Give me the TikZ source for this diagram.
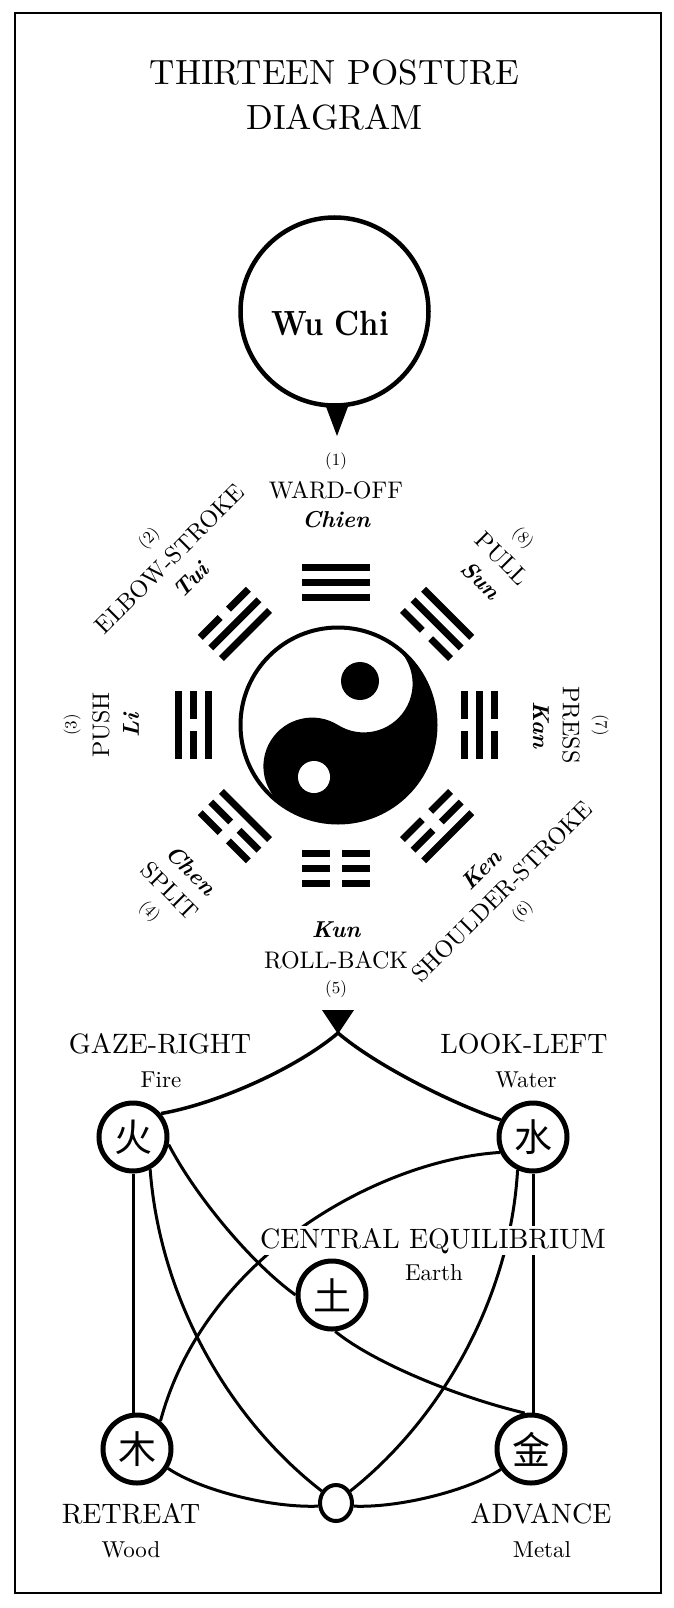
\documentclass[tikz,border=0pt]{standalone}
\usepackage{fontspec}
\setmainfont{lmroman10-regular}[Extension=.otf, BoldFont=lmroman10-bold, ItalicFont=lmroman10-italic, BoldItalicFont=lmroman10-bolditalic]
\newfontfamily\cjk{Noto Sans CJK SC}
\usetikzlibrary{shapes.geometric}
\newcommand{\tgbar}[2]{%
  \ifnum#2=1
    \fill (-34,#1-3.5) rectangle (34,#1+3.5);
  \else
    \fill (-34,#1-3.5) rectangle (-6,#1+3.5);
    \fill (6,#1-3.5) rectangle (34,#1+3.5);
  \fi}
\newcommand{\trigram}[4]{%
  \begin{scope}[shift={(336,-725)},rotate=#1-90]
    \tgbar{128}{#2}\tgbar{143}{#3}\tgbar{158}{#4}
  \end{scope}}
\newcommand{\bagua}[6]{%
  \path (336,-725) ++(#1:205) node[pinyin, rotate=#2] (py#3) {#4};
  \path (336,-725) ++(#1:235) node[eng, rotate=#2] (en#3) {#5};
  \path (336,-725) ++(#1:264) node[num, rotate=#2] (nu#3) {#6};}
\begin{document}
\begin{tikzpicture}[x=1pt,y=1pt,
  titletext/.style={font=\fontsize{35}{42}\selectfont, inner sep=0pt, anchor=base},
  eng/.style={font=\fontsize{24}{28}\selectfont, inner sep=0pt},
  pinyin/.style={font=\fontsize{23}{27}\selectfont\bfseries\itshape, inner sep=0pt},
  num/.style={font=\fontsize{17}{20}\selectfont, inner sep=0pt},
  elem/.style={circle, draw, fill=white, line width=5pt, minimum size=68pt, inner sep=0pt, font=\cjk\fontsize{38}{40}\selectfont},
  bigname/.style={font=\fontsize{28}{32}\selectfont, inner sep=0pt, anchor=base},
  subname/.style={font=\fontsize{23}{27}\selectfont, inner sep=0pt, anchor=base},
  conn/.style={line width=3pt},
]
\useasboundingbox (0,0) rectangle (673,-1608);
\fill[white] (0,0) rectangle (673,-1608);
\draw[line width=2.5pt] (15,-13) rectangle (661,-1593);

% title
\node[titletext] (title1) at (334.5,-85) {THIRTEEN POSTURE};
\node[titletext] (title2) at (334.5,-130) {DIAGRAM};

% Wu Chi
\node[circle, draw, line width=4.5pt, minimum size=188pt, inner sep=0pt] (wuchi) at (334.5,-311.5) {};
\node[font=\fontsize{35}{40}\selectfont\bfseries, xscale=0.86, anchor=base, inner sep=0pt] (wuchitext) at (330,-335) {Wu Chi};
\fill (325,-404) -- (349,-404) -- (337,-436) -- cycle;

% yin-yang
\coordinate (yy) at (338,-725);
\fill[white] (yy) circle (97.5);
\fill (yy) ++(58:97.5) arc[start angle=58, end angle=-122, radius=97.5]
  arc[start angle=238, end angle=58, radius=48.75]
  arc[start angle=238, end angle=418, radius=48.75] -- cycle;
\fill (360,-681) circle (19);
\fill[white] (314,-777) circle (16);
\draw[line width=4pt] (yy) circle (97.5);

% trigrams (inner, middle, outer): 1 solid, 0 broken
\trigram{90}{1}{1}{1}
\trigram{135}{1}{1}{0}
\trigram{180}{1}{0}{1}
\trigram{225}{1}{0}{0}
\trigram{270}{0}{0}{0}
\trigram{315}{0}{0}{1}
\trigram{0}{0}{1}{0}
\trigram{45}{0}{1}{1}

% labels
\bagua{90}{0}{1}{Chien}{WARD-OFF}{(1)}
\bagua{135}{45}{2}{Tui}{ELBOW-STROKE}{(2)}
\bagua{180}{90}{3}{Li}{PUSH}{(3)}
\bagua{225}{-45}{4}{Chen}{SPLIT}{(4)}
\bagua{270}{0}{5}{Kun}{ROLL-BACK}{(5)}
\bagua{315}{45}{6}{Ken}{SHOULDER-STROKE}{(6)}
\bagua{0}{-90}{7}{Kan}{PRESS}{(7)}
\bagua{45}{-45}{8}{Sun}{PULL}{(8)}

% five elements
\fill (322,-1010) -- (354,-1010) -- (338,-1034) -- cycle;
\coordinate (tip5) at (338,-1033);
\node[elem] (fire) at (133,-1137) {火};
\node[elem] (water) at (533,-1137) {水};
\node[elem] (earth) at (332,-1295) {土};
\node[elem] (wood) at (137,-1449) {木};
\node[elem] (metal) at (531,-1449) {金};
\node[ellipse, draw, fill=white, line width=4pt, minimum width=32pt, minimum height=36pt, inner sep=0pt] (zero) at (336,-1503) {};

\draw[line width=3.5pt] (tip5) .. controls (298,-1067) and (220,-1103) .. (fire.40);
\draw[line width=3.5pt] (tip5) .. controls (378,-1067) and (456,-1105) .. (water.152);
\draw[conn] (fire.south) -- (fire.south |- wood.north);
\draw[conn] (water.south) -- (water.south |- metal.north);
\draw[conn] (fire.-62) .. controls (160,-1300) and (230,-1420) .. (zero.140);
\draw[conn] (water.-115) .. controls (510,-1300) and (440,-1420) .. (zero.40);
\draw[conn] (water.205) .. controls (380,-1160) and (205,-1255) .. (wood.50);
\draw[conn] (fire.-12) .. controls (195,-1195) and (250,-1262) .. (earth.180);
\draw[conn] (earth.-85) .. controls (370,-1360) and (450,-1395) .. (metal.100);
\draw[conn] (wood.-32) .. controls (200,-1490) and (270,-1508) .. (zero.190);
\draw[conn] (zero.-10) .. controls (400,-1508) and (470,-1490) .. (metal.214);

\node[bigname] (gaze) at (160,-1053) {GAZE-RIGHT};
\node[subname] (firet) at (161,-1087) {Fire};
\node[bigname] (look) at (524,-1053) {LOOK-LEFT};
\node[subname] (watert) at (526,-1087) {Water};
\node[bigname, fill=white, inner sep=2pt] (central) at (433,-1248) {CENTRAL EQUILIBRIUM};
\node[subname] (eartht) at (434,-1280) {Earth};
\node[bigname] (retreat) at (131,-1523) {RETREAT};
\node[subname] (woodt) at (131,-1557) {Wood};
\node[bigname] (advance) at (541,-1523) {ADVANCE};
\node[subname] (metalt) at (542,-1557) {Metal};
\end{tikzpicture}
\end{document}
